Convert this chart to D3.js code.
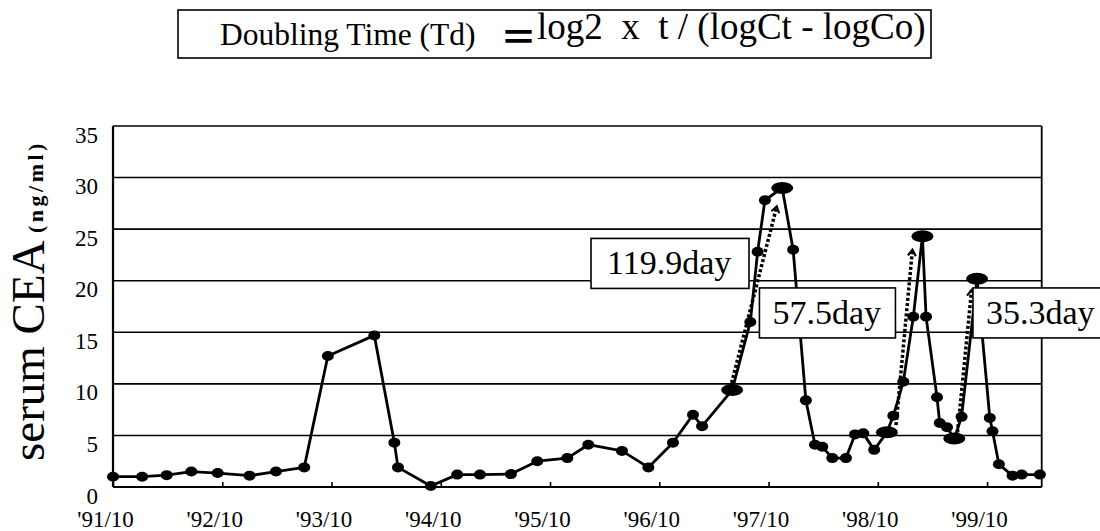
<!DOCTYPE html>
<html>
<head>
<meta charset="utf-8">
<script src="https://cdn.jsdelivr.net/npm/d3@7/dist/d3.min.js"></script>
<style>
  html, body { margin: 0; padding: 0; background: #fff; }
  svg { display: block; }
</style>
</head>
<body>
<svg id="chart" width="1100" height="531"></svg>
<script>
// ---- data (months since '91/10, serum CEA ng/ml) ----
const months = [0.0, 3.2, 5.9, 8.6, 11.5, 15.0, 17.9, 21.0, 23.6, 28.7, 30.9, 31.3, 34.9, 37.8, 40.3, 43.7,
  46.6, 49.9, 52.2, 55.9, 58.8, 61.5, 63.7, 64.7, 68.0, 70.0, 70.8, 71.6, 73.5, 74.7, 76.1, 77.1, 77.9,
  79.0, 80.5, 81.5, 82.4, 83.6, 85.0, 85.7, 86.8, 87.9, 88.9, 89.3, 90.5, 90.8, 91.6, 92.4, 93.2, 94.9,
  96.3, 96.6, 97.3, 98.8, 99.8, 101.8];
const cea = [1.0, 1.0, 1.15, 1.5, 1.35, 1.1, 1.5, 1.9, 12.7, 14.7, 4.3, 1.9, 0.1, 1.2, 1.2, 1.25,
  2.5, 2.8, 4.1, 3.5, 1.9, 4.3, 7.0, 5.9, 9.4, 16.0, 22.8, 27.8, 29.0, 23.0, 8.4, 4.1, 3.9,
  2.8, 2.8, 5.1, 5.2, 3.6, 5.3, 6.9, 10.2, 16.5, 24.3, 16.5, 8.7, 6.2, 5.8, 4.7, 6.8, 20.2,
  6.7, 5.4, 2.2, 1.1, 1.2, 1.2];
const bigPoints = [24, 28, 38, 42, 47, 49];   // indices drawn as enlarged markers

const xTickMonths = [0, 12, 24, 36, 48, 60, 72, 84, 96];
const xTickLabels = ["'91/10", "'92/10", "'93/10", "'94/10", "'95/10", "'96/10", "'97/10", "'98/10", "'99/10"];
const yTicks = [0, 5, 10, 15, 20, 25, 30, 35];

// doubling-time arrows: [startMonth, startValue, endMonth, endValue]
const arrowStart = [[67.8, 9.6], [86.0, 6.0], [92.7, 4.8]];
const arrowEnd = [[72.9, 27.2], [87.8, 23.0], [94.3, 19.1]];
const arrowLabels = ["119.9day", "57.5day", "35.3day"];
// label box anchor (month, value of box top-left)
const labelAt = [[52.5, 24.1], [71.0, 19.3], [94.45, 19.3]];

const titleLeft = "Doubling Time (Td)";
const titleEq = "＝";
const titleRight = "log2  x  t / (logCt - logCo)";

// ---- layout ----
const SERIF = "'Liberation Serif', 'Times New Roman', 'DejaVu Serif', serif";
const svg = d3.select("#chart");
const pLeft = 113, pRight = 1041.7, pTop = 126, pBottom = 487;
const x = d3.scaleLinear().domain([0, 102]).range([pLeft, pRight]);
const y = d3.scaleLinear().domain([0, 35]).range([pBottom, pTop]);

// gridlines
svg.append("g").selectAll("line").data(yTicks).join("line")
  .attr("x1", pLeft).attr("x2", pRight)
  .attr("y1", d => y(d)).attr("y2", d => y(d))
  .attr("stroke", "#000").attr("stroke-width", 1.6);

// frame
svg.append("line").attr("x1", pLeft).attr("x2", pLeft).attr("y1", pTop).attr("y2", pBottom)
  .attr("stroke", "#000").attr("stroke-width", 2.2);
svg.append("line").attr("x1", pRight).attr("x2", pRight).attr("y1", pTop).attr("y2", pBottom)
  .attr("stroke", "#000").attr("stroke-width", 1.8);
svg.append("line").attr("x1", pLeft).attr("x2", pRight).attr("y1", pBottom).attr("y2", pBottom)
  .attr("stroke", "#000").attr("stroke-width", 2.2);

// y axis labels
const yAxis = d3.axisLeft(y).tickValues(yTicks).tickSize(0).tickPadding(15);
const gy = svg.append("g").attr("transform", `translate(${pLeft},0)`).call(yAxis);
gy.attr("font-family", null).attr("font-size", null);
gy.select(".domain").remove();
gy.selectAll("text").style("font-family", SERIF).style("font-size", "23px")
  .attr("dy", "0.7em").attr("fill", "#000");

// x axis
const xAxis = d3.axisBottom(x).tickValues(xTickMonths)
  .tickFormat((d, i) => xTickLabels[i]).tickSizeInner(-5).tickSizeOuter(0).tickPadding(40);
const gx = svg.append("g").attr("transform", `translate(0,${pBottom})`).call(xAxis);
gx.attr("font-family", null).attr("font-size", null);
gx.select(".domain").remove();
gx.selectAll("line").attr("stroke", "#000").attr("stroke-width", 1.6);
gx.selectAll("text").style("font-family", SERIF).style("font-size", "23px")
  .attr("dx", -8).attr("dy", 0).attr("fill", "#000");

// data line
const pts = months.map((m, i) => [m, cea[i]]);
svg.append("path").datum(pts)
  .attr("fill", "none").attr("stroke", "#000").attr("stroke-width", 2.8)
  .attr("stroke-linejoin", "round")
  .attr("d", d3.line().x(d => x(d[0])).y(d => y(d[1])));

// markers
svg.append("g").selectAll("ellipse").data(pts).join("ellipse")
  .attr("cx", d => x(d[0])).attr("cy", d => y(d[1]))
  .attr("rx", (d, i) => bigPoints.includes(i) ? 11 : 6)
  .attr("ry", (d, i) => bigPoints.includes(i) ? 6 : 5)
  .attr("fill", "#000");

// dotted arrows
const defs = svg.append("defs");
defs.append("marker").attr("id", "chev")
  .attr("viewBox", "-7 -6 12 12").attr("refX", 0).attr("refY", 0)
  .attr("markerWidth", 12).attr("markerHeight", 12)
  .attr("markerUnits", "userSpaceOnUse").attr("orient", "auto")
  .append("path").attr("d", "M-6,-4 L0,0 L-6,4")
  .attr("fill", "none").attr("stroke", "#000").attr("stroke-width", 2.2);

svg.append("g").selectAll("line").data(arrowStart).join("line")
  .attr("x1", d => x(d[0])).attr("y1", d => y(d[1]))
  .attr("x2", (d, i) => x(arrowEnd[i][0])).attr("y2", (d, i) => y(arrowEnd[i][1]))
  .attr("stroke", "#000").attr("stroke-width", 3.5)
  .attr("stroke-dasharray", "3,2.2")
  .attr("marker-end", "url(#chev)");

// label boxes
const boxW = [158, 136, 140], boxH = 50;
const lab = svg.append("g").selectAll("g").data(arrowLabels).join("g")
  .attr("transform", (d, i) => `translate(${x(labelAt[i][0])},${y(labelAt[i][1])})`);
lab.append("rect").attr("width", (d, i) => boxW[i]).attr("height", boxH)
  .attr("fill", "#fff").attr("stroke", "#000").attr("stroke-width", 1.6);
lab.append("text").attr("x", (d, i) => i === 0 ? 16 : 13).attr("y", 36)
  .style("font-family", SERIF).style("font-size", "34px").attr("fill", "#000").text(d => d);

// title box
svg.append("rect").attr("x", 178).attr("y", 10).attr("width", 753).attr("height", 48)
  .attr("fill", "#fff").attr("stroke", "#000").attr("stroke-width", 1.6);
const tt = svg.append("text").style("font-family", SERIF).style("white-space", "pre").attr("fill", "#000");
tt.append("tspan").attr("x", 220).attr("y", 45).style("font-size", "31.5px").text(titleLeft);
tt.append("tspan").attr("x", 500).attr("y", 51)
  .style("font-family", "'Noto Sans CJK JP', sans-serif").style("font-weight", "bold")
  .style("font-size", "37px").text(titleEq);
tt.append("tspan").attr("x", 537).attr("y", 39).style("font-size", "37px").text(titleRight);

// y axis title
svg.append("text").attr("transform", "translate(44,461) rotate(-90)")
  .style("font-family", SERIF).style("font-size", "47px").attr("fill", "#000").text("serum CEA");
svg.append("text").attr("transform", "translate(43,233) rotate(-90)")
  .style("font-family", SERIF).style("font-size", "22px").style("font-weight", "bold")
  .style("letter-spacing", "3.5px").attr("fill", "#000")
  .text("(ng/ml)");
</script>
</body>
</html>
